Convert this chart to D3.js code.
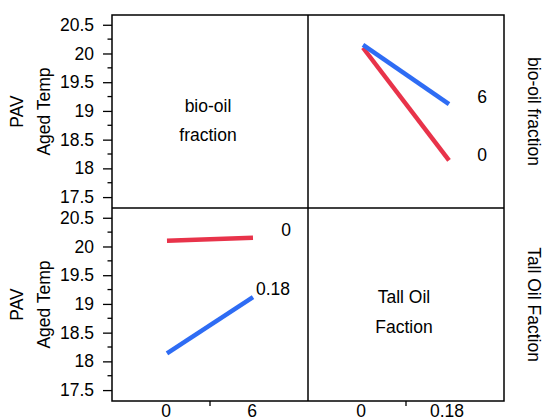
<!DOCTYPE html>
<html>
<head>
<meta charset="utf-8">
<script src="https://cdn.jsdelivr.net/npm/d3@7"></script>
<style>
  body { margin: 0; background: #fff; }
  text { font-family: "Liberation Sans", Arial, sans-serif; fill: #000; }
</style>
</head>
<body>
<div class="chart"></div>
<script>
// factor levels
var bioOil = ['0', '6']
var tallOil = ['0', '0.18']
// PAV aged temp means, indexed by bio-oil level
var tall0 = [20.10, 20.15]
var tall018 = [18.14, 19.12]
var yTicks = [17.5, 18, 18.5, 19, 19.5, 20, 20.5]

var colors = ['#e8334a', '#2e6cf4']
var fs = '17.5px'

var W = 543, H = 419
var x0 = 112, y0 = 15, cell = 196, cellH = 193

var svg = d3.select('.chart')
    .append('svg')
    .attr('width', W)
    .attr('height', H)

var y = d3.scaleLinear().domain([17.31, 20.67])

function yAxis(g, py) {
    y.range([py + cellH, py])
    var minor = d3.range(17.5, 20.51, 0.25).filter(v => yTicks.indexOf(v) < 0)
    g.append('g')
        .attr('transform', 'translate(' + x0 + ',0)')
        .call(d3.axisLeft(y).tickValues(yTicks).tickSize(9).tickPadding(9).tickFormat(d3.format('')))
        .call(s => s.select('.domain').remove())
        .call(s => s.selectAll('text').style('font-size', fs).style('font-family', '"Liberation Sans", Arial, sans-serif'))
        .call(s => s.selectAll('line').attr('stroke-width', 1.3))
    g.selectAll('.minor')
        .data(minor)
        .enter()
        .append('line')
        .attr('x1', x0 - 4.5).attr('x2', x0)
        .attr('y1', d => y(d)).attr('y2', d => y(d))
        .attr('stroke', '#000').attr('stroke-width', 1.3)
    var cy = py + cellH / 2
    g.append('text').attr('transform', 'translate(23,' + cy + ') rotate(-90)')
        .attr('text-anchor', 'middle').style('font-size', fs).text('PAV')
    g.append('text').attr('transform', 'translate(50,' + cy + ') rotate(-90)')
        .attr('text-anchor', 'middle').style('font-size', fs).text('Aged Temp')
    return y.copy()
}

var yTop = yAxis(svg.append('g'), y0)
var yBot = yAxis(svg.append('g'), y0 + cellH)

var xBio = d3.scalePoint().domain(bioOil).range([x0 + 55, x0 + 141])
var xTall = d3.scalePoint().domain(tallOil).range([x0 + cell + 55, x0 + cell + 141])

// top-right: x = tall oil, one line per bio-oil level
var topRight = bioOil.map((b, i) => ({ label: b, vals: [tall0[i], tall018[i]] }))
// bottom-left: x = bio-oil, one line per tall oil level
var botLeft = [{ label: '0', vals: tall0 }, { label: '0.18', vals: tall018 }]

var line = d3.line()

svg.selectAll('.tr')
    .data(topRight)
    .enter()
    .append('path')
    .attr('d', d => line(d.vals.map((v, j) => [xTall(tallOil[j]), yTop(v)])))
    .attr('stroke', (d, i) => colors[i])
    .attr('stroke-width', 4.5)
    .attr('fill', 'none')

svg.selectAll('.trl')
    .data(topRight)
    .enter()
    .append('text')
    .attr('x', 482)
    .attr('y', (d, i) => yTop(d.vals[1]) + (i == 1 ? -1 : 1))
    .attr('text-anchor', 'middle')
    .style('font-size', fs)
    .text(d => d.label)

svg.selectAll('.bl')
    .data(botLeft)
    .enter()
    .append('path')
    .attr('d', d => line(d.vals.map((v, j) => [xBio(bioOil[j]), yBot(v)])))
    .attr('stroke', (d, i) => colors[i])
    .attr('stroke-width', 4.5)
    .attr('fill', 'none')

svg.selectAll('.bll')
    .data(botLeft)
    .enter()
    .append('text')
    .attr('x', (d, i) => i == 0 ? 286 : 256)
    .attr('y', d => yBot(d.vals[1]) - 2)
    .attr('text-anchor', (d, i) => i == 0 ? 'middle' : 'start')
    .style('font-size', fs)
    .text(d => d.label)

// diagonal labels
var diag = svg.append('g').style('font-size', fs).attr('text-anchor', 'middle')
diag.append('text').attr('x', x0 + cell / 2 - 2).attr('y', 112).text('bio-oil')
diag.append('text').attr('x', x0 + cell / 2 - 2).attr('y', 141).text('fraction')
diag.append('text').attr('x', x0 + cell * 1.5 - 2).attr('y', 303).text('Tall Oil')
diag.append('text').attr('x', x0 + cell * 1.5 - 2).attr('y', 333).text('Faction')

// row labels on the right
svg.append('text').attr('transform', 'translate(528,' + (y0 + cellH / 2) + ') rotate(90)')
    .attr('text-anchor', 'middle').style('font-size', fs).text('bio-oil fraction')
svg.append('text').attr('transform', 'translate(528,' + (y0 + cellH * 1.5) + ') rotate(90)')
    .attr('text-anchor', 'middle').style('font-size', fs).text('Tall Oil Faction')

// x axis labels
var xb = y0 + cellH * 2
var xLab = svg.append('g').style('font-size', fs).attr('text-anchor', 'middle')
bioOil.forEach(b => xLab.append('text').attr('x', xBio(b) - 1).attr('y', xb + 16).text(b))
tallOil.forEach(t => xLab.append('text').attr('x', xTall(t) - 2).attr('y', xb + 16).text(t))
;[d3.mean(xBio.range()), d3.mean(xTall.range())].forEach(x => {
    svg.append('line').attr('x1', x).attr('x2', x).attr('y1', xb).attr('y2', xb + 5)
        .attr('stroke', '#000').attr('stroke-width', 1.3)
})

// grid frame
var frame = svg.append('g').attr('fill', 'none').attr('stroke', '#000').attr('stroke-width', 1.5)
frame.append('rect').attr('x', x0).attr('y', y0).attr('width', cell * 2).attr('height', cellH * 2)
frame.append('line').attr('x1', x0 + cell).attr('x2', x0 + cell).attr('y1', y0).attr('y2', y0 + cellH * 2)
frame.append('line').attr('x1', x0).attr('x2', x0 + cell * 2).attr('y1', y0 + cellH).attr('y2', y0 + cellH)
</script>
</body>
</html>
